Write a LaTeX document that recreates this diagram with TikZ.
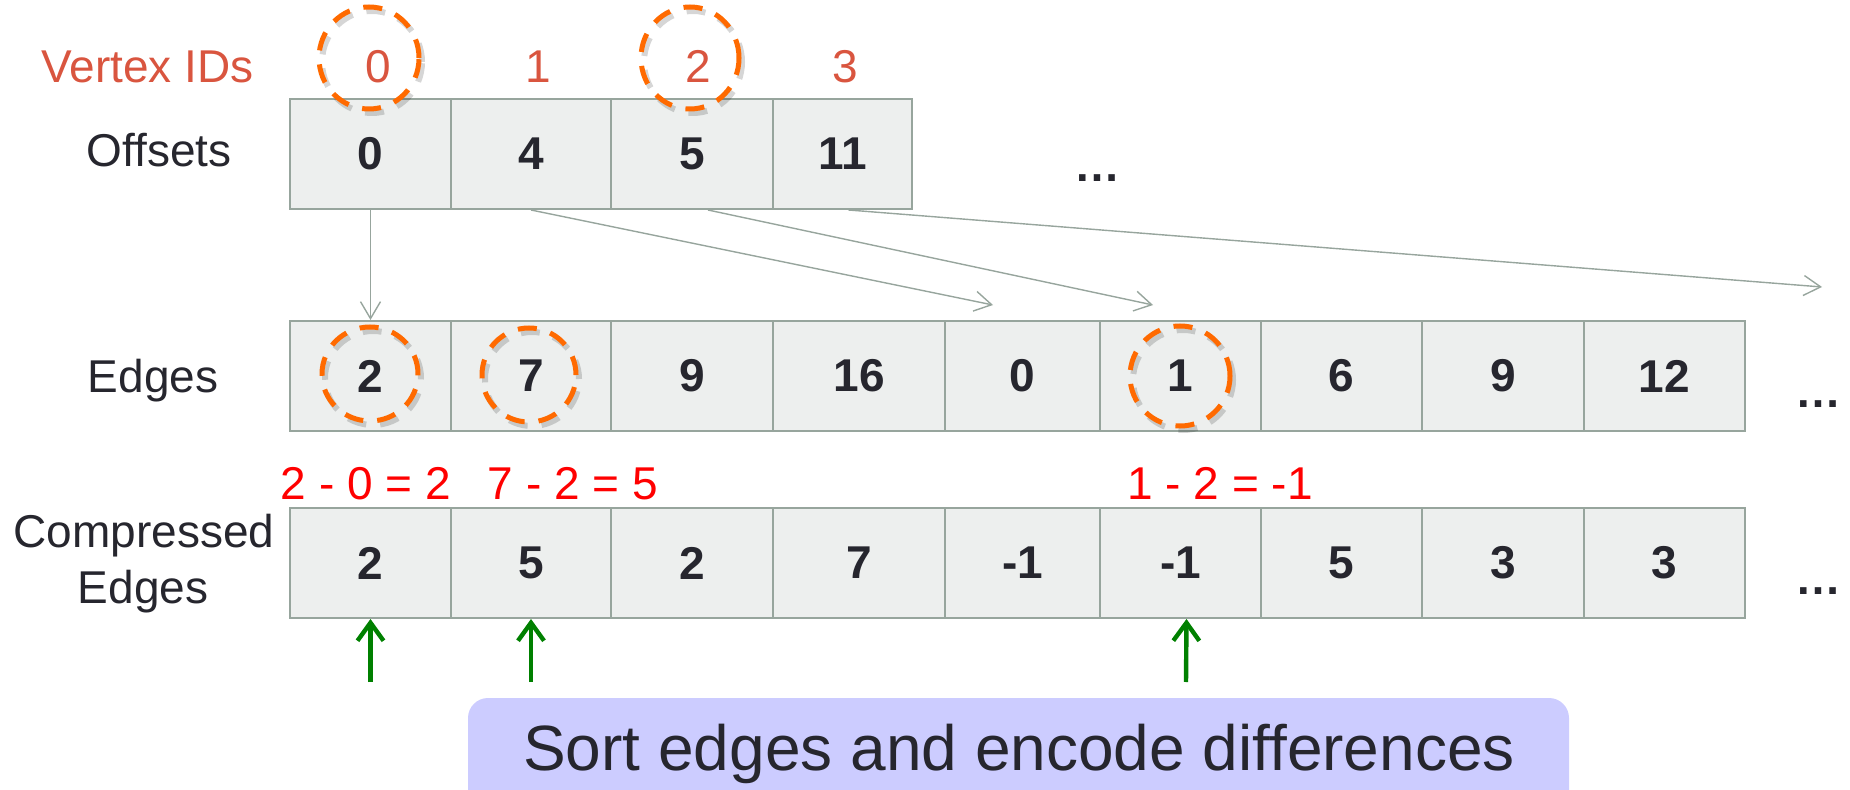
\documentclass[tikz,border=0pt]{standalone}
\usepackage{fontspec}
\setmainfont{Liberation Sans}
\usetikzlibrary{arrows.meta,shapes.geometric}

\definecolor{idred}{HTML}{D9553F}
\definecolor{ringor}{HTML}{FF6A00}
\definecolor{frame}{HTML}{97A59D}
\definecolor{cellfill}{HTML}{EDEFEE}
\definecolor{ink}{HTML}{26262E}
\definecolor{diffred}{HTML}{FF0000}
\definecolor{hintgreen}{HTML}{008000}
\definecolor{notefill}{HTML}{CCCCFF}

% dashed highlight ring with a soft shadow underneath
\newcommand{\ringat}[5]{%
  \node[ringshadow, minimum width=#4, minimum height=#5] (#1s) at ({#2+3},{#3+4}) {};
  \node[ring, minimum width=#4, minimum height=#5] (#1) at (#2,#3) {};
}

\begin{document}
\begin{tikzpicture}[x=0.5pt,y=-0.5pt,
  cell/.style={draw=frame, line width=1pt, fill=cellfill, minimum height=55pt,
    inner sep=0pt, text=ink, font=\fontsize{23}{27}\selectfont\bfseries},
  lbl/.style={anchor=base, inner sep=0pt, text=ink, font=\fontsize{23}{27}\selectfont},
  vid/.style={lbl, text=idred},
  diff/.style={lbl, text=diffred},
  more/.style={lbl, font=\fontsize{23}{27}\selectfont\bfseries},
  ring/.style={ellipse, draw=ringor, line width=2.5pt, inner sep=0pt,
    dash pattern=on 9.5pt off 7pt},
  ringshadow/.style={ellipse, draw=black, opacity=0.16, line width=3pt, inner sep=0pt,
    dash pattern=on 9.5pt off 7pt},
  link/.style={draw=frame, line width=0.7pt, -{Straight Barb[length=8.5pt,width=10pt]}},
  hint/.style={draw=hintgreen, line width=2.2pt, -{Straight Barb[length=9pt,width=13pt]}},
  notebox/.style={fill=notefill, rounded corners=10pt, inner sep=0pt,
    minimum width=550.5pt, minimum height=71pt},
]
\useasboundingbox (0,0) rectangle (1850,790);
\clip (0,0) rectangle (1850,790);

% row labels
\node[vid] (vidlbl) at (147.5,83) {Vertex IDs};
\node[lbl] (offlbl) at (159,167) {Offsets};
\node[lbl] (edglbl) at (153,393) {Edges};
\node[lbl] (cmplbl1) at (144,547) {Compressed};
\node[lbl] (cmplbl2) at (143,603) {Edges};

% vertex ids
\foreach \x/\t [count=\i] in {378/0, 538/1, 698/2, 845/3}
  \node[vid] (vid\i) at (\x,83) {\t};

% offsets array
\foreach \l/\r/\t [count=\i] in {290/451/0, 451/611/4, 611/773/5, 773/912/11}
  \node[cell, minimum width={(\r-\l)*0.5pt}] (off\i) at ({(\l+\r)/2},154) {\t};

% edges array
\foreach \l/\r/\t [count=\i] in {290/451/2, 451/611/7, 611/773/9, 773/945/16,
    945/1100/0, 1100/1261/1, 1261/1422/6, 1422/1584/9, 1584/1745/12}
  \node[cell, minimum width={(\r-\l)*0.5pt}] (edg\i) at ({(\l+\r)/2},376) {\t};

% compressed edges array
\foreach \l/\r/\t [count=\i] in {290/451/2, 451/611/5, 611/773/2, 773/945/7,
    945/1100/-1, 1100/1261/-1, 1261/1422/5, 1422/1584/3, 1584/1745/3}
  \node[cell, minimum width={(\r-\l)*0.5pt}] (cmp\i) at ({(\l+\r)/2},563) {\t};

% continuation marks
\node[more] (offmore) at (1097,182) {…};
\node[more] (edgmore) at (1818,408) {…};
\node[more] (cmpmore) at (1818,594) {…};

% differences
\node[diff] (d1) at (366,499) {2 - 0 = 2};
\node[diff] (d2) at (573,499) {7 - 2 = 5};
\node[diff] (d3) at (1220,499) {1 - 2 = -1};

% offset pointers into the edge array
\coordinate (pt2) at (993,305);
\coordinate (pt3) at (1153,305);
\coordinate (pt4) at (1822,287);
\draw[link] (off1.south) -- (edg1.north);
\draw[link] (off2.south) -- (pt2);
\draw[link] ([xshift=8pt]off3.south) -- (pt3);
\draw[link] ([xshift=3pt]off4.south) -- (pt4);

% highlight rings
\ringat{r0}{369}{58}{50pt}{51pt}
\ringat{r2}{690}{58}{49pt}{51pt}
\ringat{re1}{370}{374}{48pt}{47pt}
\ringat{re2}{529}{375}{47pt}{47pt}
\ringat{re6}{1180}{376}{50pt}{50pt}

% markers under the compressed entries
\coordinate (g1) at (370.5,682);
\coordinate (g2) at (531,682);
\coordinate (g6) at (1186,682);
\draw[hint] (g1) -- (cmp1.south);
\draw[hint] (g2) -- (cmp2.south);
\draw[hint] (g6) -- ([xshift=3pt]cmp6.south);

% caption box
\node[notebox] (note) at (1018.5,769) {};
\node[lbl, font=\fontsize{32}{38}\selectfont] (notetext) at (1019,770)
  {Sort edges and encode differences};
\end{tikzpicture}
\end{document}
